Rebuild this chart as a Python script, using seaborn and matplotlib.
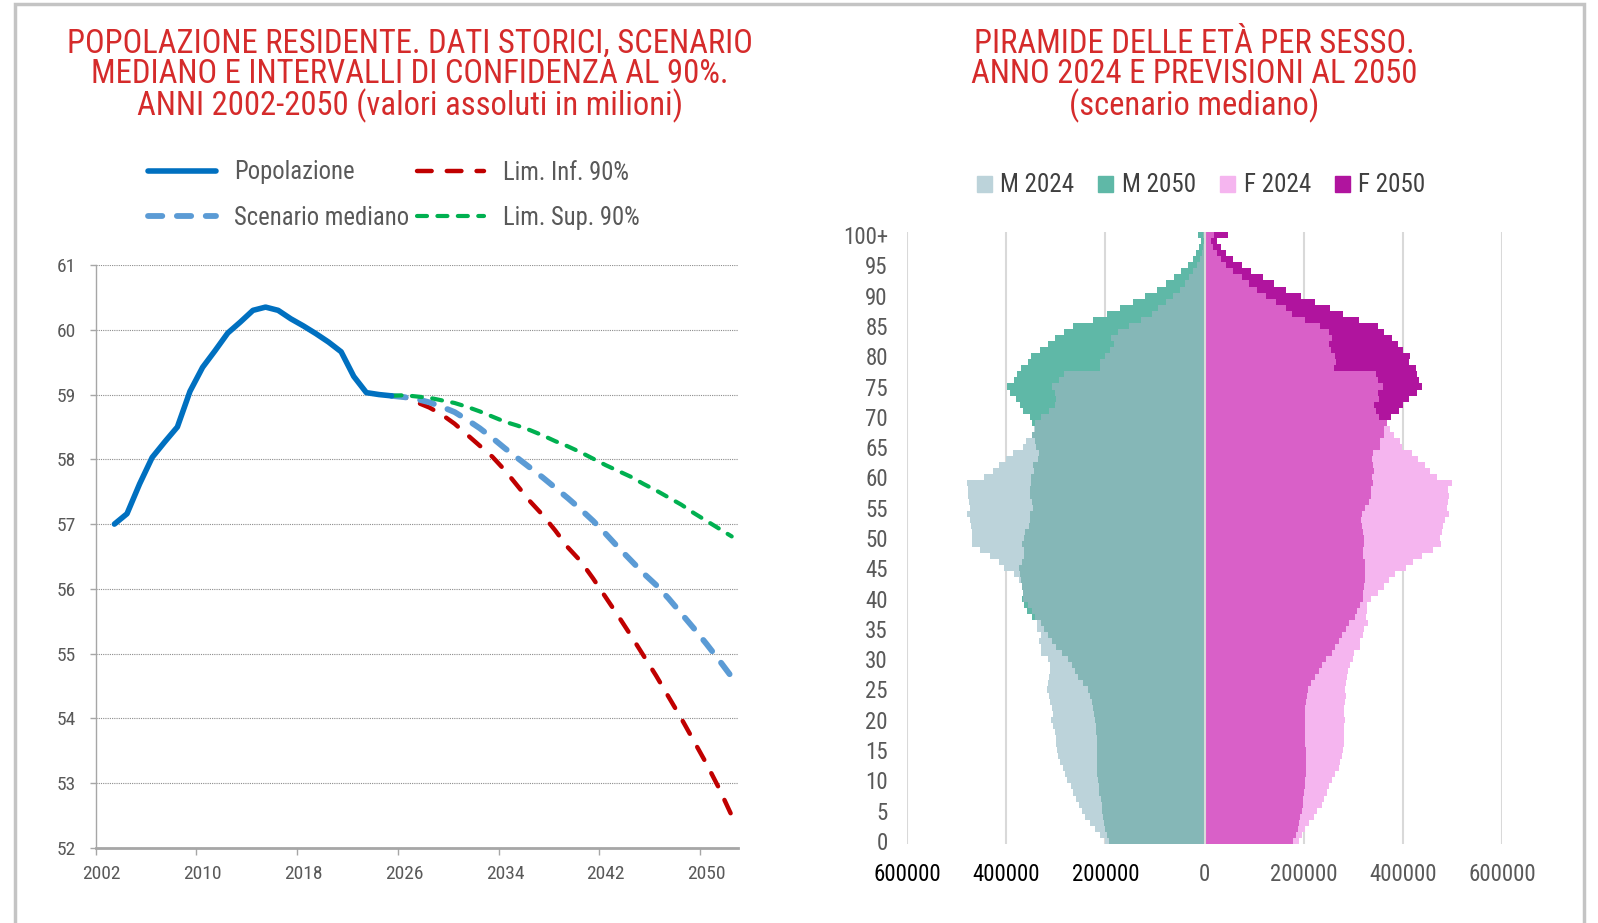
import numpy as np
import pandas as pd
import matplotlib
matplotlib.use('Agg')
import matplotlib.pyplot as plt
import seaborn as sns
from matplotlib import font_manager as fm
from matplotlib.patches import Patch, Rectangle

sns.set_theme(style='white')

# font stretto, se c'e
nomi_font = {(f.name, f.stretch) for f in fm.fontManager.ttflist}
famiglie = {n for n, s in nomi_font}
if 'Liberation Sans Narrow' in famiglie:
    plt.rcParams['font.family'] = ['Liberation Sans Narrow', 'DejaVu Sans']
elif 'Roboto Condensed' in famiglie:
    plt.rcParams['font.family'] = ['Roboto Condensed', 'DejaVu Sans']
elif any(n == 'DejaVu Sans' and s in ('condensed', 'semi-condensed') for n, s in nomi_font):
    plt.rcParams['font.family'] = ['DejaVu Sans']
    plt.rcParams['font.stretch'] = 'condensed'
else:
    plt.rcParams['font.family'] = ['Liberation Sans', 'DejaVu Sans']

# --- dati grafico di sinistra (milioni) ---
anni_storici = list(range(2003, 2026))
popolazione = [57.00, 57.16, 57.62, 58.03, 58.27, 58.50, 59.05, 59.42, 59.68, 59.95,
               60.12, 60.30, 60.35, 60.30, 60.17, 60.06, 59.94, 59.81, 59.66, 59.28,
               59.03, 59.00, 58.98]
anni_prev = list(range(2025, 2053))
scenario_mediano = [58.98, 58.96, 58.93, 58.88, 58.81, 58.73, 58.61, 58.48, 58.33, 58.17,
                    58.02, 57.87, 57.72, 57.56, 57.40, 57.23, 57.05, 56.85, 56.64, 56.44,
                    56.24, 56.06, 55.85, 55.62, 55.39, 55.15, 54.90, 54.64]
lim_inf = [58.98, 58.96, 58.88, 58.80, 58.69, 58.55, 58.38, 58.21, 58.04, 57.83,
           57.59, 57.35, 57.14, 56.90, 56.64, 56.43, 56.16, 55.87, 55.58, 55.28,
           54.97, 54.66, 54.33, 54.00, 53.65, 53.30, 52.92, 52.50]
lim_sup = [58.98, 58.99, 58.97, 58.95, 58.91, 58.87, 58.81, 58.74, 58.66, 58.58,
           58.52, 58.45, 58.37, 58.28, 58.20, 58.11, 58.01, 57.91, 57.82, 57.73,
           57.62, 57.52, 57.41, 57.30, 57.17, 57.05, 56.93, 56.81]
anni_etichette = [2002, 2010, 2018, 2026, 2034, 2042, 2050]

# --- dati piramide (migliaia, eta 0..100+) ---
eta = [str(a) for a in range(100)] + ['100+']
m_2024 = [200, 212, 222, 231, 241, 248, 253, 260, 266, 270,
          277, 282, 286, 291, 296, 298, 299, 299, 301, 306,
          309, 306, 308, 313, 315, 318, 317, 315, 313, 313,
          317, 330, 330, 334, 331, 338, 338, 342, 349, 357,
          366, 367, 369, 374, 384, 404, 415, 434, 453, 470,
          470, 469, 471, 473, 479, 474, 475, 477, 478, 479,
          446, 428, 415, 401, 387, 366, 360, 349, 345, 342,
          330, 315, 302, 299, 302, 307, 293, 284, 212, 211,
          202, 190, 182, 188, 174, 153, 129, 106, 95, 78,
          63, 49, 39, 31, 23, 15, 9.5, 5.4, 3.4, 2, 2.7]
m_2050 = [192, 197, 200, 203, 205, 207, 208, 210, 213, 214,
          215, 217, 217, 217, 217, 218, 218, 218, 219, 219,
          221, 223, 225, 228, 231, 236, 245, 255, 262, 267,
          275, 287, 299, 308, 316, 325, 331, 349, 358, 364,
          369, 366, 368, 371, 372, 375, 369, 364, 364, 369,
          364, 362, 355, 352, 352, 347, 349, 353, 352, 350,
          350, 345, 347, 337, 335, 340, 342, 349, 343, 349,
          352, 367, 373, 381, 392, 398, 385, 379, 370, 356,
          350, 333, 317, 302, 283, 265, 226, 196, 170, 144,
          121, 96, 78, 61, 47, 34, 24, 17, 11, 8, 14]
f_2024 = [191, 196, 202, 211, 220, 227, 236, 240, 247, 251,
          257, 264, 271, 274, 278, 280, 281, 281, 282, 281,
          283, 281, 281, 283, 285, 283, 285, 287, 289, 293,
          300, 302, 314, 314, 319, 322, 329, 326, 327, 327,
          336, 349, 363, 372, 385, 406, 420, 439, 460, 477,
          475, 479, 482, 486, 494, 489, 491, 494, 492, 499,
          470, 455, 445, 430, 418, 399, 394, 383, 375, 368,
          351, 345, 341, 351, 349, 360, 349, 345, 261, 266,
          263, 255, 251, 257, 251, 232, 202, 176, 164, 145,
          123, 106, 89, 76, 57, 43, 33, 25, 16, 12, 18]
f_2050 = [179, 184, 188, 191, 193, 196, 198, 199, 200, 202,
          203, 204, 204, 204, 204, 204, 203, 203, 203, 203,
          203, 203, 203, 204, 206, 209, 215, 222, 230, 236,
          244, 257, 263, 271, 278, 285, 292, 304, 307, 314,
          319, 320, 322, 323, 323, 323, 324, 319, 319, 322,
          321, 319, 317, 316, 317, 324, 332, 336, 336, 339,
          338, 341, 339, 338, 339, 353, 353, 362, 362, 368,
          377, 392, 400, 413, 428, 439, 432, 428, 426, 413,
          415, 400, 391, 379, 362, 349, 311, 280, 253, 222,
          195, 164, 140, 117, 94, 76, 57, 44, 33, 25, 48]
assi_piramide = [-600000, -400000, -200000, 0, 200000, 400000, 600000]

ROSSO_TITOLO = '#d52b2b'
GRIGIO_TESTO = '#595959'

fig = plt.figure(figsize=(15.98, 9.23), dpi=100)
fig.patch.set_facecolor('white')
fig.add_artist(Rectangle((15 / 1598, -0.05), 1569 / 1598, 1.05 - 4 / 923,
                         transform=fig.transFigure, fill=False,
                         edgecolor='#c4c4c4', linewidth=2.5))

# ================= grafico di sinistra =================
ax1 = fig.add_axes([95.5 / 1598, 1 - 848 / 923, (738 - 95.5) / 1598, (848 - 265) / 923])

stili = [
    (anni_storici, popolazione, 'Popolazione', '#0070c0', 4.0, '-'),
    (anni_prev, lim_inf, 'Lim. Inf. 90%', '#c00000', 3.2, (0, (3.3, 3.4))),
    (anni_prev, scenario_mediano, 'Scenario mediano', '#5b9bd5', 4.2, (0, (2.45, 2.5))),
    (anni_prev, lim_sup, 'Lim. Sup. 90%', '#00b050', 3.0, (0, (2.4, 2.5))),
]
for xs, ys, nome, col, lw, ls in stili:
    sns.lineplot(x=xs, y=ys, ax=ax1, color=col, linewidth=lw, linestyle=ls,
                 solid_capstyle='round', dash_capstyle='round',
                 solid_joinstyle='round', label=nome)
# la linea popolazione sopra le altre
ax1.lines[0].set_zorder(5)

ax1.set_xlim(2001.5, 2052.5)
ax1.set_ylim(52, 61)
ax1.set_yticks(range(52, 62))
ax1.set_xticks(anni_etichette)
ax1.set_xticklabels([str(a) for a in anni_etichette])
ax1.set_xticks([a - 0.5 for a in anni_etichette], minor=True)
ax1.tick_params(axis='x', which='major', length=0, pad=12, labelsize=14, labelcolor=GRIGIO_TESTO)
ax1.tick_params(axis='x', which='minor', length=5, width=1, color='#a6a6a6', direction='out', bottom=True)
ax1.tick_params(axis='y', length=4, width=1, color='#a6a6a6', direction='out', left=True,
                pad=10, labelsize=14, labelcolor=GRIGIO_TESTO)
ax1.grid(axis='y', linestyle=(0, (1, 1)), color='#8c8c8c', linewidth=0.8)
ax1.grid(axis='x', visible=False)
for lato in ['top', 'right']:
    ax1.spines[lato].set_visible(False)
ax1.spines['left'].set_color('#a6a6a6')
ax1.spines['left'].set_linewidth(1)
ax1.spines['bottom'].set_color('#a6a6a6')
ax1.spines['bottom'].set_linewidth(2)
ax1.set_xlabel('')
ax1.set_ylabel('')

ordine = [0, 2, 1, 3]
h, l = ax1.get_legend_handles_labels()
leg1 = ax1.legend([h[i] for i in ordine], [l[i] for i in ordine], ncol=2,
                  loc='upper left', bbox_to_anchor=(148 / 1598, 1 - 160.5 / 923),
                  bbox_transform=fig.transFigure, frameon=False, fontsize=17.7,
                  handlelength=2.75, handletextpad=0.75, columnspacing=0.3,
                  labelspacing=0.87, borderpad=0, borderaxespad=0)
for t in leg1.get_texts():
    t.set_color(GRIGIO_TESTO)

fig.text(410 / 1598, 1 - 75.5 / 923,
         'POPOLAZIONE RESIDENTE. DATI STORICI, SCENARIO\n'
         'MEDIANO E INTERVALLI DI CONFIDENZA AL 90%.\n'
         'ANNI 2002-2050 (valori assoluti in milioni)',
         ha='center', va='center', color=ROSSO_TITOLO, fontsize=23.5, linespacing=0.94)

# ================= piramide =================
ax2 = fig.add_axes([907.3 / 1598, 1 - 844 / 923, (1501.9 - 907.3) / 1598, (844 - 232) / 923])

ordine_eta = eta[::-1]
m24 = np.array(m_2024) * 1000
m50 = np.array(m_2050) * 1000
f24 = np.array(f_2024) * 1000
f50 = np.array(f_2050) * 1000
df = pd.DataFrame({'eta': eta, 'm24': -m24, 'm50': -m50, 'mmin': -np.minimum(m24, m50),
                   'f24': f24, 'f50': f50, 'fmin': np.minimum(f24, f50)})

strati = [('m24', '#bcd3da'), ('m50', '#5fb8a7'), ('mmin', '#85b7b7'),
          ('f24', '#f5b5ef'), ('f50', '#b0149e'), ('fmin', '#d960c8')]
for col, colore in strati:
    sns.barplot(data=df, x=col, y='eta', order=ordine_eta, orient='h', ax=ax2,
                color=colore, saturation=1, width=1.0, errorbar=None, linewidth=0)

ax2.axvline(0, color='#d9d9d9', linewidth=1.5, zorder=10)
ax2.set_xlim(-600000, 600000)
ax2.set_ylim(100.5, -0.5)
ax2.set_xticks(assi_piramide)
ax2.set_xticklabels([str(abs(v)) for v in assi_piramide])
for v, t in zip(assi_piramide, ax2.get_xticklabels()):
    t.set_color('black' if v < 0 else GRIGIO_TESTO)
for t in ax2.get_yticklabels():
    testo = t.get_text()
    t.set_visible(testo == '100+' or int(testo) % 5 == 0)
ax2.tick_params(axis='both', length=0, labelsize=16.5)
ax2.tick_params(axis='x', pad=14)
ax2.tick_params(axis='y', pad=14, labelcolor=GRIGIO_TESTO)
ax2.set_axisbelow(True)
ax2.grid(axis='x', color='#d9d9d9', linewidth=1.5)
ax2.grid(axis='y', visible=False)
for s in ax2.spines.values():
    s.set_visible(False)
ax2.set_xlabel('')
ax2.set_ylabel('')

voci = [Patch(color='#bcd3da', label='M 2024'), Patch(color='#5fb8a7', label='M 2050'),
        Patch(color='#f5b5ef', label='F 2024'), Patch(color='#b0149e', label='F 2050')]
leg2 = fig.legend(handles=voci, ncol=4, loc='center', bbox_to_anchor=(1201 / 1598, 1 - 185.5 / 923),
                  frameon=False, fontsize=18, handlelength=0.6, handleheight=0.6,
                  handletextpad=0.35, columnspacing=0.95, borderpad=0)
for t in leg2.get_texts():
    t.set_color('#404040')

fig.text(1194.5 / 1598, 1 - 75.5 / 923,
         'PIRAMIDE DELLE ETÀ PER SESSO.\nANNO 2024 E PREVISIONI AL 2050\n(scenario mediano)',
         ha='center', va='center', color=ROSSO_TITOLO, fontsize=23.5, linespacing=0.94)

fig.savefig('out.png', dpi=100)
